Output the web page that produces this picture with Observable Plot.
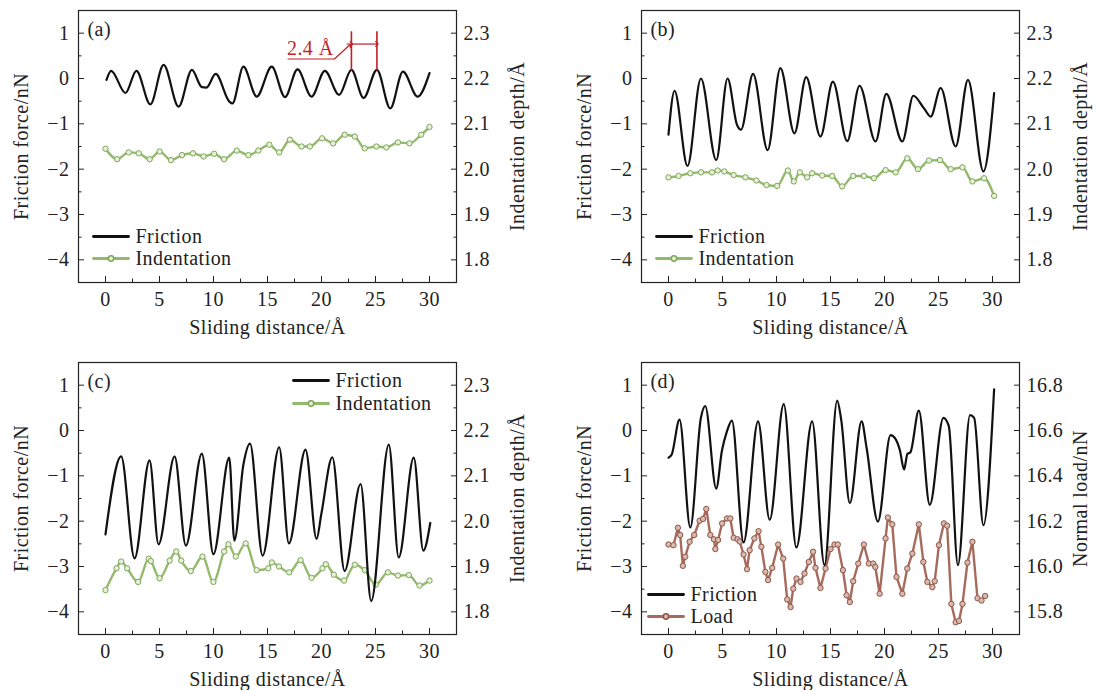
<!DOCTYPE html>
<html><head><meta charset="utf-8">
<script src="https://cdn.jsdelivr.net/npm/d3@7"></script>
<script src="https://cdn.jsdelivr.net/npm/@observablehq/plot@0.6"></script>
<style>
html,body{margin:0;padding:0;background:#fff;}
#root{position:relative;width:1099px;height:690px;overflow:hidden;background:#fff;}
.panel{position:absolute;}
</style></head><body><div id="root"></div>
<script>
// ---------- tick labels ----------
const xTicks = [0, 5, 10, 15, 20, 25, 30];
const xMinor = [2.5, 7.5, 12.5, 17.5, 22.5, 27.5];
const frictionTicks = [1, 0, -1, -2, -3, -4];
const frictionMinor = [0.5, -0.5, -1.5, -2.5, -3.5];
const indentTicks = [2.3, 2.2, 2.1, 2.0, 1.9, 1.8];
const loadTicks = [16.8, 16.6, 16.4, 16.2, 16.0, 15.8];

// ---------- panel (a) ----------
const aFricX = [0.09,0.52,1.85,2.86,4.15,5.38,6.77,8.0,8.92,9.35,10.2,11.47,11.75,12.77,14.0,15.39,16.62,17.78,19.08,20.31,21.63,22.77,23.9,25.13,26.37,27.54,28.9,30.0];
const aFricY = [-0.03,0.17,-0.32,0.17,-0.57,0.3,-0.62,0.19,-0.19,-0.2,0.1,-0.51,-0.55,0.26,-0.4,0.26,-0.41,0.2,-0.4,0.17,-0.36,0.19,-0.43,0.19,-0.66,0.15,-0.4,0.12];
const aIndX = [0,1.08,2.15,3.08,4.09,5.01,6.06,7.08,8.1,9.08,10.06,10.98,12.15,13.23,14.15,15.17,16.08,17.08,18.15,18.92,20.06,21.08,22.15,23.08,24.0,25.08,26.0,27.08,28.15,29.23,30];
const aIndY = [2.045,2.022,2.037,2.035,2.022,2.039,2.02,2.031,2.035,2.028,2.034,2.022,2.041,2.031,2.041,2.054,2.037,2.065,2.05,2.05,2.068,2.057,2.076,2.072,2.046,2.05,2.048,2.059,2.057,2.076,2.093];
// annotation (a): period marker
const annotPeaksX = [22.77, 25.13];
const annotSpan = [0.17, 1.03];
const annotArrowY = 0.76;
const annotLeaderX = [16.9, 21.2, 22.6];
const annotLeaderY = [0.43, 0.43, 0.74];
const annotText = "2.4 Å";

// ---------- panel (b) ----------
const bFricX = [0,0.56,1.76,3.0,4.42,5.47,6.34,6.71,7.83,9.18,10.36,11.66,12.75,14.07,15.22,16.55,17.69,19.17,20.17,21.65,22.67,23.66,24.28,25.2,26.59,27.73,29.16,30.15];
const bFricY = [-1.24,-0.27,-1.93,0.0,-1.8,0.0,-1.02,-1.13,0.1,-1.58,0.23,-1.21,0.03,-1.28,-0.07,-1.38,-0.16,-1.39,-0.34,-1.39,-0.38,-0.66,-0.84,-0.21,-1.5,-0.03,-2.05,-0.32];
const bIndX = [0,0.93,2.02,3.01,4.03,4.55,5.17,6.03,7.12,8.14,9.07,10.06,11.05,11.6,12.16,12.84,13.3,14.23,15.16,16.08,17.1,18.09,19.02,20.1,21.03,22.11,23.1,24.12,25.14,26.13,27.22,28.14,29.22,30.15];
const bIndY = [1.982,1.985,1.991,1.993,1.993,1.997,1.995,1.987,1.982,1.975,1.965,1.963,1.997,1.973,1.993,1.982,1.991,1.986,1.985,1.962,1.985,1.985,1.980,1.998,1.993,2.024,2.0,2.019,2.020,2.0,2.004,1.973,1.980,1.941];

// ---------- panel (c) ----------
const cFricX = [0,1.45,2.69,4.08,4.91,6.4,7.44,8.92,9.99,11.46,11.93,12.77,13.38,14.55,16.08,16.98,18.52,19.54,20.0,21.0,22.14,23.62,24.6,26.23,27.15,28.54,29.43,30.07];
const cFricY = [-2.29,-0.57,-2.82,-0.66,-2.51,-0.57,-2.54,-0.51,-2.73,-0.6,-2.43,-0.75,-0.29,-2.76,-0.37,-2.49,-0.42,-2.39,-1.82,-0.59,-3.1,-1.18,-3.76,-0.31,-2.8,-0.6,-2.65,-2.04];
const cIndX = [0,1.02,1.45,2.0,3.02,4.0,4.2,5.01,5.94,6.55,7.01,7.9,8.98,9.99,10.98,11.38,12.06,12.98,14.0,15.07,15.4,16.06,17.01,18.06,19.08,20.09,20.4,21.14,22.09,23.08,24.0,25.02,26.15,27.08,28.09,29.08,30];
const cIndY = [1.848,1.896,1.911,1.896,1.866,1.917,1.912,1.874,1.913,1.933,1.913,1.89,1.922,1.866,1.933,1.949,1.922,1.951,1.892,1.896,1.909,1.9,1.887,1.914,1.875,1.896,1.905,1.882,1.869,1.904,1.892,1.86,1.887,1.88,1.881,1.858,1.869];

// ---------- panel (d) ----------
const dFricX = [0,0.3,1.02,2.02,3.0,3.4,4.42,4.95,5.41,5.87,6.95,8.29,9.37,10.67,11.84,13.3,14.44,15.62,15.99,16.79,17.88,18.34,19.39,20.56,21.0,21.43,21.81,22.12,22.4,23.18,24.19,25.45,25.95,26.8,27.92,28.3,29.16,30.15];
const dFricY = [-0.6,-0.53,0.24,-2.14,0.28,0.54,-1.28,-0.44,-0.02,0.22,-2.47,0.2,-1.97,0.58,-2.58,0.2,-2.97,0.66,0.24,-1.6,0.2,-0.38,-2.01,-0.1,-0.18,-0.44,-0.86,-0.52,-0.48,0.44,-1.64,0.28,0.1,-2.97,0.34,0.28,-2.09,0.91];
const dLoadX = [0,0.46,0.87,1.08,1.33,1.55,1.95,2.38,2.88,3.2,3.5,3.87,4.2,4.34,4.59,4.96,5.42,5.72,6.03,6.4,6.6,6.95,7.27,7.51,7.95,8.34,8.6,8.97,9.22,9.6,10.15,10.62,10.99,11.3,11.55,11.85,12.22,12.59,12.99,13.39,13.61,14.07,14.54,15.0,15.37,15.68,16.15,16.49,16.79,17.1,17.57,18.09,18.55,18.95,19.15,19.55,20.1,20.31,20.72,21.11,21.65,22.11,22.58,23.18,23.6,23.97,24.43,24.65,25.04,25.5,25.8,26.19,26.59,26.9,27.22,27.68,28.14,28.61,28.98,29.32];
const dLoadY = [16.097,16.094,16.171,16.139,16.003,16.043,16.109,16.139,16.202,16.21,16.254,16.139,16.12,16.077,16.117,16.19,16.212,16.212,16.127,16.12,16.11,16.053,15.988,16.072,16.124,16.156,16.087,15.976,15.94,15.994,16.097,16.035,15.855,15.821,15.902,15.947,15.932,15.969,16.02,16.065,15.994,15.905,15.991,16.077,16.097,16.097,15.984,15.873,15.843,15.935,16.013,16.097,16.013,16.013,15.998,15.88,16.124,16.216,16.186,15.954,15.88,15.991,16.057,16.186,16.02,15.932,15.909,15.935,16.094,16.19,16.18,15.835,15.754,15.76,15.835,16.017,16.109,15.86,15.85,15.87];

// ---------- styling ----------
const FONT = "'Liberation Serif', 'DejaVu Serif', serif";
const INK = "#222";
const GREEN = {line: "#93ba6a", fill: "#e6efd9", stroke: "#7ea758"};
const BROWN = {line: "#a66b5d", fill: "#d9b8ae", stroke: "#8e5647"};
const RED = "#c21f27";
const lineShape = {draw(ctx, l) { ctx.moveTo(0, 0); ctx.lineTo(0, -l); }};
const fmtMinus = d => d < 0 ? "\u2212" + Math.abs(d) : String(d);

function panel(o) {
  const toF = v => (v - o.base) / o.k;
  const fric = o.fx.map((x, i) => ({x, y: o.fy[i]}));
  const sec = o.sx.map((x, i) => ({x, y: toF(o.sy[i])}));
  const rPos = o.rightTicks.map(toF);
  const rMinor = rPos.slice(1).map((p, i) => (p + rPos[i]) / 2);
  const fmtR = v => {
    let bi = 0; rPos.forEach((p, i) => { if (Math.abs(p - v) < Math.abs(rPos[bi] - v)) bi = i; });
    return o.rightTicks[bi].toFixed(1);
  };
  const L = o.legend;
  const T = {fill: INK, lineAnchor: "middle"};
  const marks = [
    Plot.frame({stroke: INK, strokeWidth: 1.2}),
    // ticks (inward)
    Plot.axisY({anchor: "left", ticks: frictionTicks, tickSize: 6, dx: 6, text: null, label: null, stroke: INK}),
    Plot.axisY({anchor: "left", ticks: frictionMinor, tickSize: 3.5, dx: 3.5, text: null, label: null, stroke: INK}),
    Plot.axisY({anchor: "left", ticks: frictionTicks, tickSize: 0, tickPadding: 9, tickFormat: fmtMinus, label: null, fill: INK}),
    Plot.axisY({anchor: "right", ticks: rPos, tickSize: 6, dx: -6, text: null, label: null, stroke: INK}),
    Plot.axisY({anchor: "right", ticks: rMinor, tickSize: 3.5, dx: -3.5, text: null, label: null, stroke: INK}),
    Plot.axisY({anchor: "right", ticks: rPos, tickSize: 0, tickPadding: 7, tickFormat: fmtR, label: null, fill: INK}),
    Plot.axisX({anchor: "bottom", ticks: xTicks, tickSize: 6, dy: -6, text: null, label: null, stroke: INK}),
    Plot.axisX({anchor: "bottom", ticks: xMinor, tickSize: 3.5, dy: -3.5, text: null, label: null, stroke: INK}),
    Plot.axisX({anchor: "bottom", ticks: xTicks, tickSize: 0, tickPadding: 9, tickFormat: d => String(d), label: null, fill: INK}),
    // titles
    Plot.text(["Friction force/nN"], {...T, frameAnchor: "left", dx: -57, rotate: -90, textAnchor: "middle"}),
    Plot.text([o.rightTitle], {...T, frameAnchor: "right", dx: 61, rotate: -90, textAnchor: "middle"}),
    Plot.text(["Sliding distance/Å"], {...T, frameAnchor: "bottom", dy: 45, textAnchor: "middle"}),
    Plot.text([o.label], {...T, frameAnchor: "top-left", dx: 9, dy: 19, textAnchor: "start"}),
    // data
    Plot.line(sec, {x: "x", y: "y", stroke: o.col.line, strokeWidth: 2.4, curve: o.secCurve}),
    Plot.dot(sec, {x: "x", y: "y", r: 2.7, fill: o.col.fill, stroke: o.col.stroke, strokeWidth: 1}),
    Plot.line(fric, {x: "x", y: "y", stroke: "#111", strokeWidth: 2.2, curve: "monotone-x"}),
    // legend
    Plot.vector([0], {frameAnchor: L.anchor, dx: L.x, dy: L.y1, length: 35, rotate: 90, anchor: "start", shape: lineShape, stroke: "#111", strokeWidth: 2.8}),
    Plot.text(["Friction"], {...T, frameAnchor: L.anchor, dx: L.x + 42, dy: L.y1, textAnchor: "start"}),
    Plot.vector([0], {frameAnchor: L.anchor, dx: L.x, dy: L.y2, length: 35, rotate: 90, anchor: "start", shape: lineShape, stroke: o.col.line, strokeWidth: 2.8}),
    Plot.dot([0], {frameAnchor: L.anchor, dx: L.x + 17.5, dy: L.y2, r: 2.7, fill: o.col.fill, stroke: o.col.stroke}),
    Plot.text([o.secName], {...T, frameAnchor: L.anchor, dx: L.x + 42, dy: L.y2, textAnchor: "start"}),
    ...(o.extra || [])
  ];
  const svg = Plot.plot({
    width: o.width, height: 346,
    marginLeft: 78, marginRight: o.width - 456, marginTop: 10, marginBottom: 64,
    x: {domain: [-2.5, 32.5]},
    y: {domain: [-4.5, 1.5]},
    style: {fontFamily: FONT, fontSize: "20px", letterSpacing: "0.45px", background: "transparent", overflow: "visible", color: INK},
    marks
  });
  svg.setAttribute("class", "panel");
  svg.style.left = o.left + "px";
  svg.style.top = o.top + "px";
  svg.style.position = "absolute";
  document.getElementById("root").appendChild(svg);
}

const annotMarks = [
  Plot.ruleX(annotPeaksX, {y1: annotSpan[0], y2: annotSpan[1], stroke: RED, strokeWidth: 1.6}),
  Plot.link([0], {x1: annotPeaksX[0], x2: annotPeaksX[1], y1: annotArrowY, y2: annotArrowY, stroke: RED, strokeWidth: 1.2, markerStart: "arrow", markerEnd: "arrow"}),
  Plot.line(annotLeaderX.map((x, i) => ({x, y: annotLeaderY[i]})), {x: "x", y: "y", stroke: RED, strokeWidth: 1.2, markerEnd: "arrow"}),
  Plot.text([annotText], {x: annotLeaderX[0] - 0.1, y: annotLeaderY[0] + 0.08, textAnchor: "start", lineAnchor: "bottom", fill: RED})
];

panel({label: "(a)", fx: aFricX, fy: aFricY, sx: aIndX, sy: aIndY, secName: "Indentation", col: GREEN, secCurve: "monotone-x",
  base: 2.2, k: 0.1, rightTicks: indentTicks, rightTitle: "Indentation depth/Å",
  legend: {anchor: "bottom-left", x: 15, y1: -46, y2: -24}, width: 563, left: 0, top: 0, extra: annotMarks});
panel({label: "(b)", fx: bFricX, fy: bFricY, sx: bIndX, sy: bIndY, secName: "Indentation", col: GREEN, secCurve: "monotone-x",
  base: 2.2, k: 0.1, rightTicks: indentTicks, rightTitle: "Indentation depth/Å",
  legend: {anchor: "bottom-left", x: 15, y1: -46, y2: -24}, width: 536, left: 563, top: 0});
panel({label: "(c)", fx: cFricX, fy: cFricY, sx: cIndX, sy: cIndY, secName: "Indentation", col: GREEN, secCurve: "monotone-x",
  base: 2.2, k: 0.1, rightTicks: indentTicks, rightTitle: "Indentation depth/Å",
  legend: {anchor: "top-right", x: -163, y1: 18, y2: 41}, width: 563, left: 0, top: 352});
panel({label: "(d)", fx: dFricX, fy: dFricY, sx: dLoadX, sy: dLoadY, secName: "Load", col: BROWN, secCurve: "linear",
  base: 16.6, k: 0.2, rightTicks: loadTicks, rightTitle: "Normal load/nN",
  legend: {anchor: "bottom-left", x: 7, y1: -40, y2: -18}, width: 536, left: 563, top: 352});
</script>
</body></html>
